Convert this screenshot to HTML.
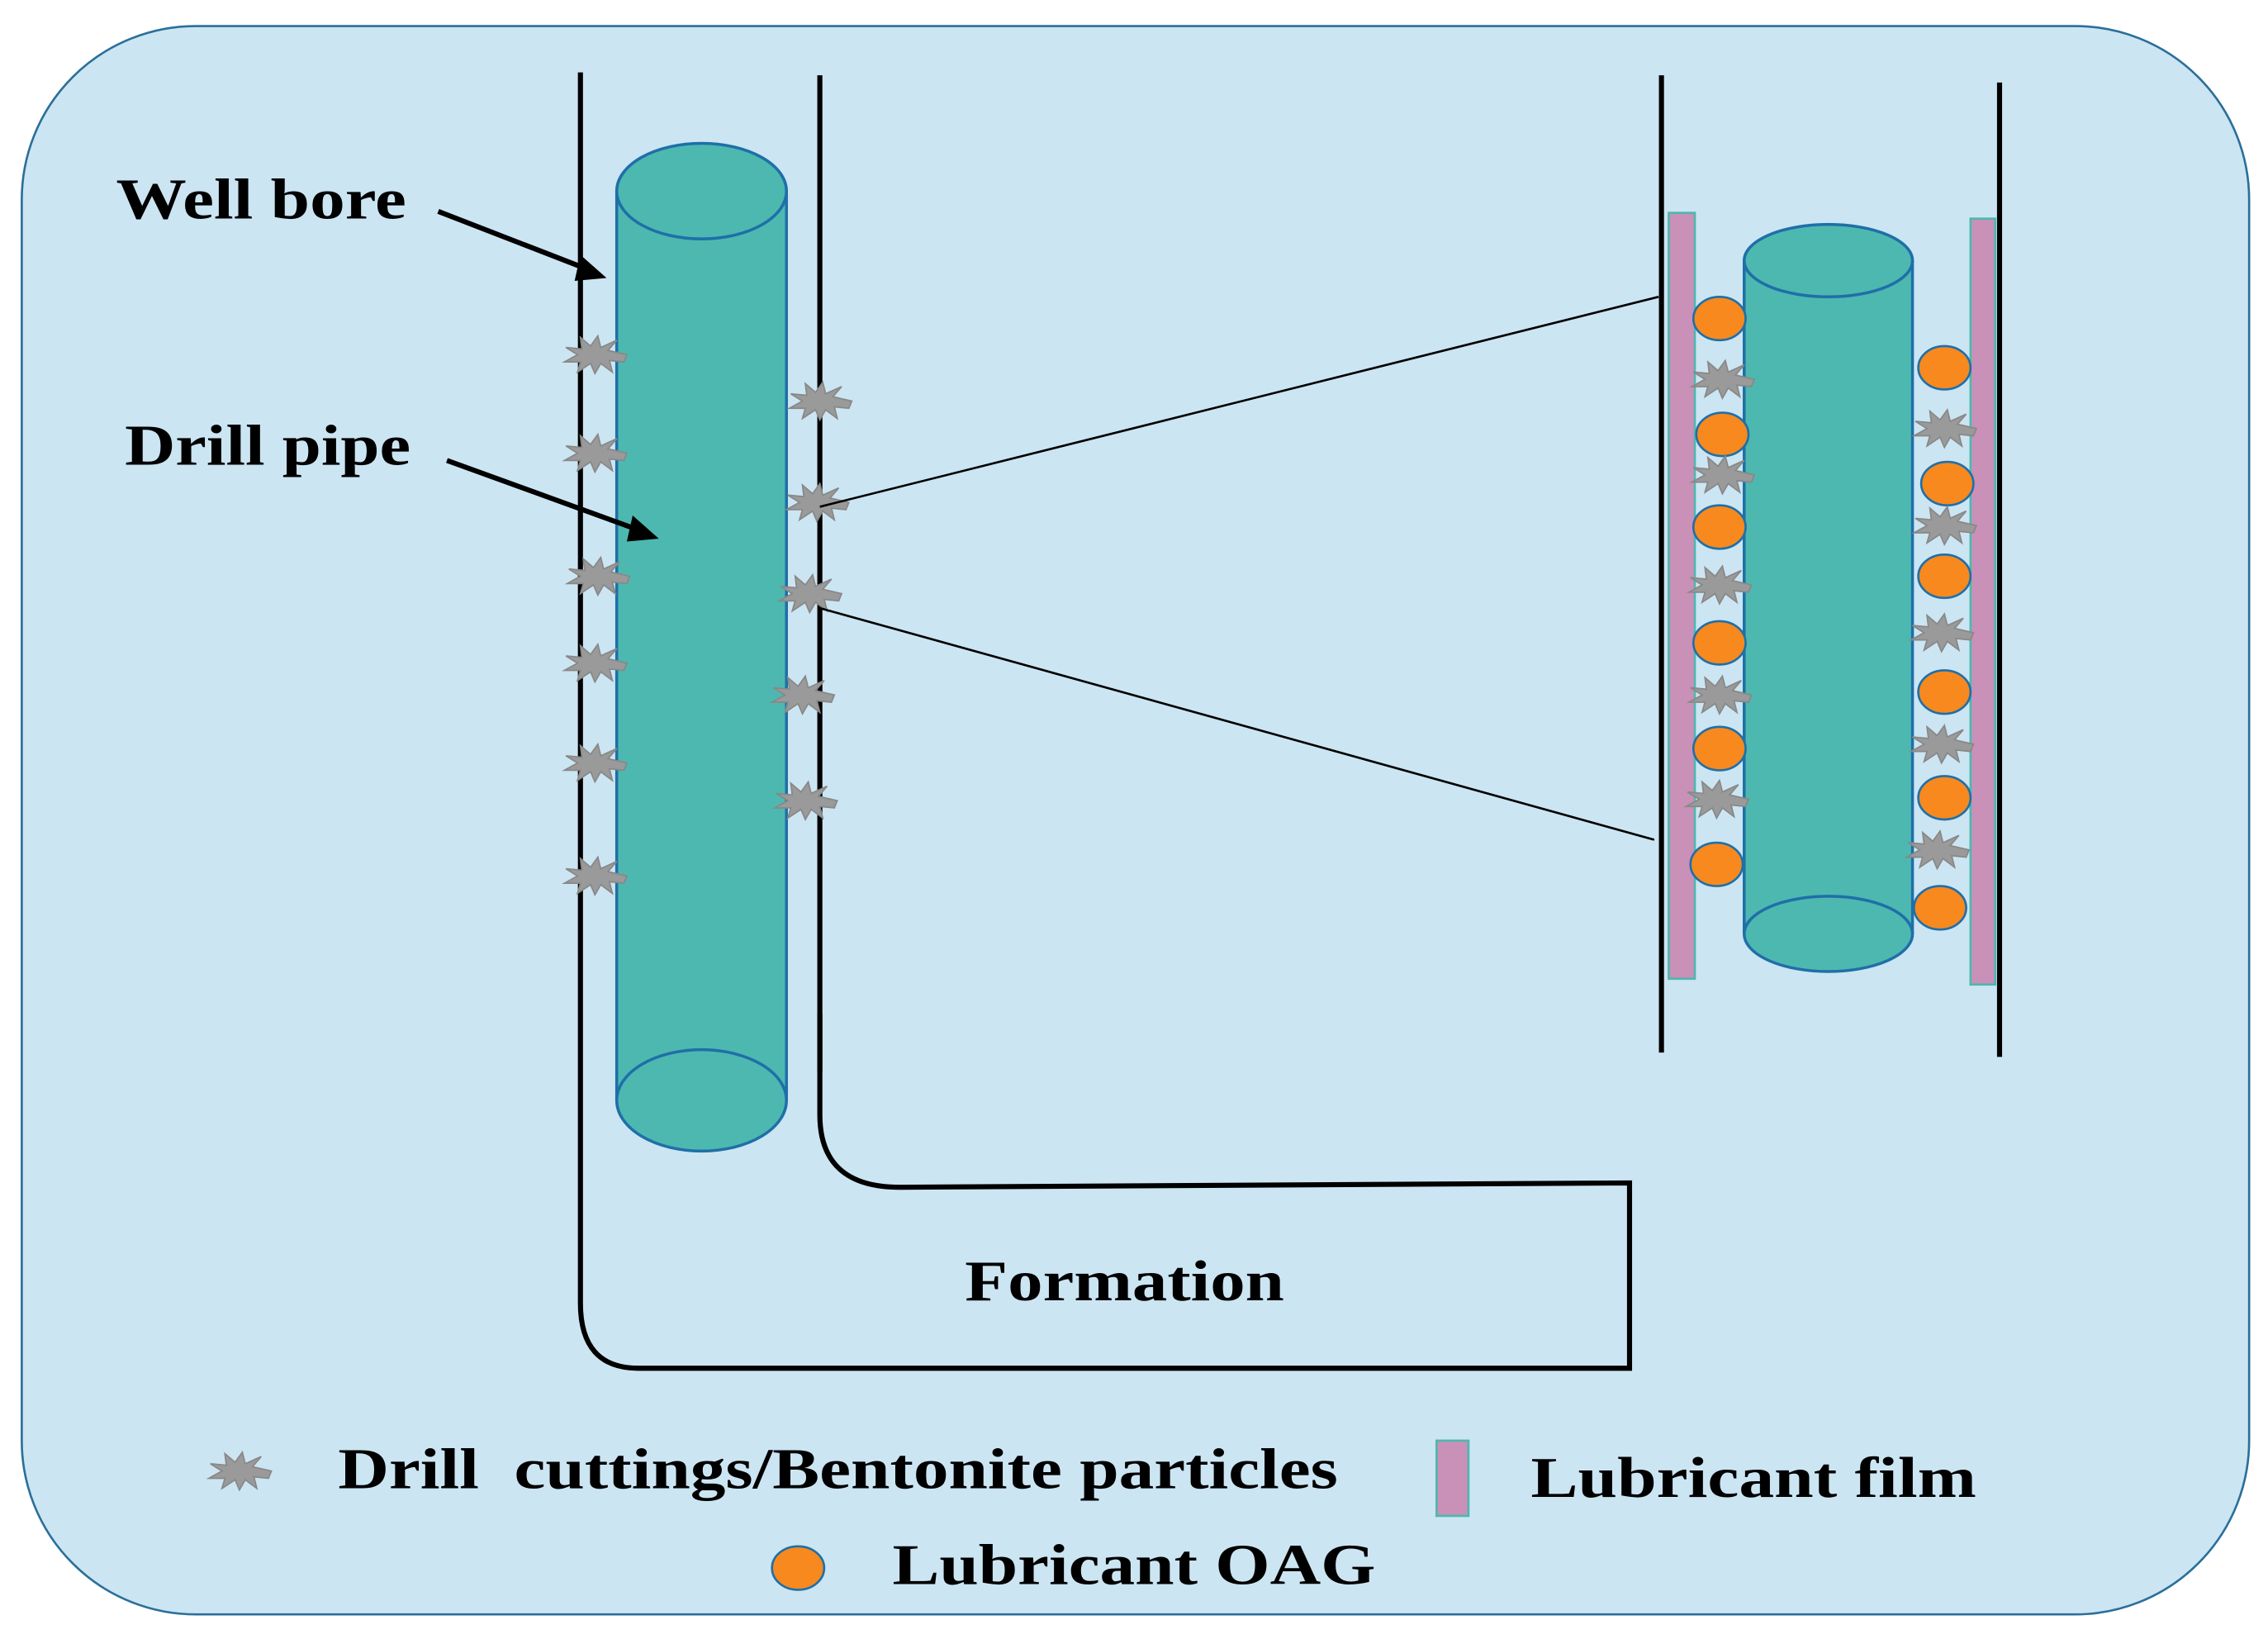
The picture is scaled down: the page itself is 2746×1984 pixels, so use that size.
<!DOCTYPE html>
<html><head><meta charset="utf-8"><style>html,body{margin:0;padding:0;background:#fff}svg{display:block}</style></head>
<body>
<svg width="2746" height="1984" viewBox="0 0 1563 1132" preserveAspectRatio="none" xmlns="http://www.w3.org/2000/svg">
<defs>
<polygon id="st" points="22,0 9,-3 15,-10 4,-5 2,-13 -3,-6 -10,-12 -9,-4 -20,-5 -12,0 -21,5 -10,5 -12,12 -3,6 0,13 4,6 12,12 10,4 20,5" fill="#9a9a9a" stroke="#888" stroke-width="1"/>
<ellipse id="ob" rx="18" ry="15" fill="#f7891f" stroke="#1f6fa8" stroke-width="1.5"/>
</defs>
<rect x="15" y="18" width="1535" height="1097" rx="120" fill="#cce5f2" stroke="#2a6f9a" stroke-width="1.5"/>
<path d="M400,50 L400,900 Q400,945 440,945 L1123,945 L1123,817 L620,820 Q565,820 565,770 L565,700" fill="none" stroke="#000" stroke-width="3.5"/>
<line x1="565" y1="52" x2="565" y2="740" stroke="#000" stroke-width="3.5"/>
<rect x="425" y="132" width="117" height="628" fill="#4db8b0"/>
<line x1="425" y1="132" x2="425" y2="760" stroke="#1f6fa8" stroke-width="2"/>
<line x1="542" y1="132" x2="542" y2="760" stroke="#1f6fa8" stroke-width="2"/>
<ellipse cx="483.5" cy="760" rx="58.5" ry="35" fill="#4db8b0" stroke="#1f6fa8" stroke-width="2"/>
<ellipse cx="483.5" cy="132" rx="58.5" ry="33" fill="#4db8b0" stroke="#1f6fa8" stroke-width="2"/>
<line x1="302" y1="146" x2="405" y2="186" stroke="#000" stroke-width="3.5"/>
<polygon points="418,192 400,176 396,194" fill="#000"/>
<line x1="308" y1="318" x2="440" y2="366" stroke="#000" stroke-width="3.5"/>
<polygon points="454,372 436,356 432,374" fill="#000"/>
<use href="#st" x="410" y="245"/><use href="#st" x="410" y="313"/><use href="#st" x="412" y="398"/><use href="#st" x="410" y="458"/><use href="#st" x="410" y="527"/><use href="#st" x="410" y="605"/>
<use href="#st" x="565" y="277"/><use href="#st" x="563" y="347"/><use href="#st" x="558" y="410"/><use href="#st" x="553" y="480"/><use href="#st" x="555" y="553"/>
<line x1="565" y1="350" x2="1143" y2="205" stroke="#000" stroke-width="1.5"/>
<line x1="565" y1="420" x2="1140" y2="580" stroke="#000" stroke-width="1.5"/>
<line x1="1145" y1="52" x2="1145" y2="727" stroke="#000" stroke-width="3.5"/>
<line x1="1378" y1="57" x2="1378" y2="730" stroke="#000" stroke-width="3.5"/>
<rect x="1150" y="147" width="18" height="529" fill="#c990b8" stroke="#4db8b0" stroke-width="1.5"/>
<rect x="1358" y="151" width="17" height="529" fill="#c990b8" stroke="#4db8b0" stroke-width="1.5"/>
<rect x="1202" y="180" width="116" height="465" fill="#4db8b0"/>
<line x1="1202" y1="180" x2="1202" y2="645" stroke="#1f6fa8" stroke-width="2"/>
<line x1="1318" y1="180" x2="1318" y2="645" stroke="#1f6fa8" stroke-width="2"/>
<ellipse cx="1260" cy="645" rx="58" ry="26" fill="#4db8b0" stroke="#1f6fa8" stroke-width="2"/>
<ellipse cx="1260" cy="180" rx="58" ry="25" fill="#4db8b0" stroke="#1f6fa8" stroke-width="2"/>
<use href="#ob" x="1185" y="220"/><use href="#ob" x="1187" y="300"/><use href="#ob" x="1185" y="364"/><use href="#ob" x="1185" y="444"/><use href="#ob" x="1185" y="517"/><use href="#ob" x="1183" y="597"/>
<use href="#st" x="1187" y="262"/><use href="#st" x="1187" y="328"/><use href="#st" x="1185" y="404"/><use href="#st" x="1185" y="480"/><use href="#st" x="1183" y="552"/>
<use href="#ob" x="1340" y="254"/><use href="#ob" x="1342" y="334"/><use href="#ob" x="1340" y="398"/><use href="#ob" x="1340" y="478"/><use href="#ob" x="1340" y="551"/><use href="#ob" x="1337" y="627"/>
<use href="#st" x="1340" y="296"/><use href="#st" x="1340" y="363"/><use href="#st" x="1338" y="437"/><use href="#st" x="1338" y="514"/><use href="#st" x="1335" y="587"/>
<g font-family="Liberation Serif, serif" font-weight="bold" fill="#000" font-size="40">
<text x="80" y="151" textLength="200" lengthAdjust="spacingAndGlyphs">Well bore</text>
<text x="86" y="321" textLength="197" lengthAdjust="spacingAndGlyphs">Drill pipe</text>
<text x="665" y="898" textLength="220" lengthAdjust="spacingAndGlyphs">Formation</text>
<text x="233" y="1028" xml:space="preserve" textLength="689" lengthAdjust="spacingAndGlyphs">Drill  cuttings/Bentonite particles</text>
<text x="1055" y="1034" textLength="307" lengthAdjust="spacingAndGlyphs">Lubricant film</text>
<text x="615" y="1094" textLength="333" lengthAdjust="spacingAndGlyphs">Lubricant OAG</text>
</g>
<use href="#st" x="165" y="1016"/>
<rect x="990" y="995" width="22" height="52" fill="#c990b8" stroke="#4db8b0" stroke-width="1.5"/>
<use href="#ob" x="550" y="1083"/>
</svg>
</body></html>
